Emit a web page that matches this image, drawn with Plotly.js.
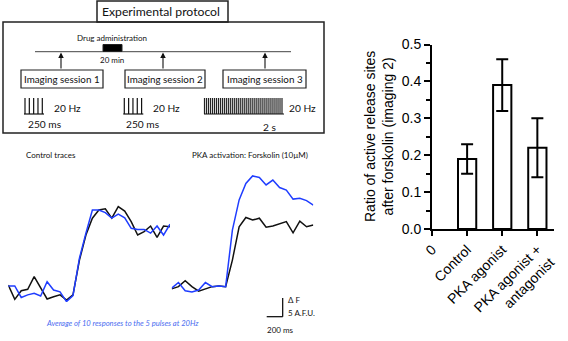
<!DOCTYPE html>
<html><head><meta charset="utf-8">
<script src="https://cdn.plot.ly/plotly-3.0.1.min.js"></script>
<style>html,body{margin:0;padding:0;background:#fff}#plot{width:568px;height:341px}</style>
</head><body><div id="plot"></div>
<script>
// ---- Bar chart data ----
const groups = ['Control', 'PKA agonist', 'PKA agonist +<br>antagonist'];
const ratioMean = [0.19, 0.39, 0.22];
const ratioErr = [0.04, 0.07, 0.08];

// ---- Fluorescence traces (ΔF, A.F.U.) ----
const frameMs = 80;
const controlBlack = [1.3,-2.5,-0.2,0.2,3.6,0.5,-2.4,-1.8,-1.3,-2.7,-1.3,8.0,14.7,19.2,21.4,21.7,19.2,22.3,21.1,18.3,14.7,15.6,17.1,14.1,17.1,16.9];
const controlBlue  = [1.1,1.1,-2.0,-1.3,-0.9,-1.6,2.2,0.0,-0.5,-3.1,-1.5,8.5,15.2,21.4,21.4,20.7,19.2,20.3,19.3,16.5,16.2,16.2,15.2,17.1,14.7,17.6];
const forskBlack = [0.3,0.9,2.5,0.9,-0.3,0.3,0.9,1.1,0.9,8.0,16.9,19.4,18.7,19.2,16.8,17.1,17.6,18.3,15.3,18.4,16.9,17.4];
const forskBlue  = [0.5,2.0,-0.2,-0.5,0.0,2.0,0.9,1.1,0.9,16.0,24.1,28.5,30.5,30.1,28.1,29.4,27.4,26.7,24.3,24.5,23.9,22.7];

// ---- Protocol ----
const sessionPulses = [5, 5, 40];

const W = 568, H = 341;
const X = p => p / W, Y = p => 1 - p / H;
const times = arr => arr.map((_, i) => i * frameMs);

const ink = '#222';
const blk = '#111', blu = '#1f3dff';
const data = [
  {type:'scatter', mode:'lines', x:times(controlBlack), y:controlBlack, xaxis:'x2', yaxis:'y2', line:{color:blk,width:1.5}, hoverinfo:'skip'},
  {type:'scatter', mode:'lines', x:times(controlBlue), y:controlBlue, xaxis:'x2', yaxis:'y2', line:{color:blu,width:1.5}, hoverinfo:'skip'},
  {type:'scatter', mode:'lines', x:times(forskBlack), y:forskBlack, xaxis:'x3', yaxis:'y2', line:{color:blk,width:1.5}, hoverinfo:'skip'},
  {type:'scatter', mode:'lines', x:times(forskBlue), y:forskBlue, xaxis:'x3', yaxis:'y2', line:{color:blu,width:1.5}, hoverinfo:'skip'},
  {type:'bar', x:[1,2,3], y:ratioMean, width:0.52,
   marker:{color:'#fff', line:{color:'#000', width:2}},
   error_y:{type:'data', array:ratioErr, visible:true, color:'#000', thickness:2, width:6}}
];

const shapes = [];
const line = (x0,y0,x1,y1,w,c) => shapes.push({type:'line', xref:'paper', yref:'paper', x0:X(x0), y0:Y(y0), x1:X(x1), y1:Y(y1), line:{color:c||ink, width:w||1}});
const rect = (x0,y0,x1,y1,w,fill) => shapes.push({type:'rect', xref:'paper', yref:'paper', x0:X(x0), y0:Y(y0), x1:X(x1), y1:Y(y1), line:{color:ink, width:w||1}, fillcolor:fill||'rgba(0,0,0,0)'});

// protocol boxes
rect(97, 1, 228, 22, 1.5);
rect(3, 22, 324, 133, 1.5);
line(35, 51.7, 291, 51.7, 1, '#444');
rect(103, 44.5, 122, 51.5, 1, '#000');
rect(21, 70, 103, 88, 1.2);
rect(125, 70, 205, 88, 1.2);
rect(223, 70, 306, 88, 1.2);
// pulse trains
const trains = [{x0:25, x1:42.3, base0:24, base1:44}, {x0:124.3, x1:141.6, base0:123.3, base1:143.3}, {x0:204.5, x1:282, base0:204, base1:284}];
trains.forEach((t, k) => {
  const n = sessionPulses[k];
  for (let i = 0; i < n; i++) {
    const xx = t.x0 + i * (t.x1 - t.x0) / (n - 1);
    line(xx, 98, xx, 114, n > 10 ? 1.2 : 1.2, n > 10 ? '#222' : '#111');
  }
  line(t.base0, 114, t.base1, 114, 1.2, '#111');
});
// scale bar
line(282.7, 298, 282.7, 316.7, 1.2, '#000');
line(266.7, 316.7, 282.7, 316.7, 1.2, '#000');

const dfont = 'Lato, "Open Sans", sans-serif';
const ann = [];
const txt = (t, x, y, size, anchor, extra) => ann.push(Object.assign({text:t, xref:'paper', yref:'paper', x:X(x), y:Y(y), xanchor:anchor||'center', yanchor:'middle', showarrow:false, font:{family:dfont, size:size, color:'#111'}}, extra||{}));
txt('Experimental protocol', 161, 12, 12.2);
txt('Drug administration', 112, 37.5, 8);
txt('20 min', 112, 59.5, 8);
txt('Imaging session 1', 62, 79, 9.8);
txt('Imaging session 2', 165, 79, 9.8);
txt('Imaging session 3', 264.5, 79, 9.8);
txt('20 Hz', 52, 108, 10.2, 'left');
txt('20 Hz', 151, 108, 10.2, 'left');
txt('20 Hz', 287, 108, 10.2, 'left');
txt('250 ms', 26, 124, 10.2, 'left');
txt('250 ms', 124, 124, 10.2, 'left');
txt('2 s', 261, 127, 10.2, 'left');
txt('Control traces', 24, 155, 8, 'left');
txt('PKA activation: Forskolin (10µM)', 190, 155, 8, 'left');
txt('<i>Average of 10 responses to the 5 pulses at 20Hz</i>', 44, 323, 7.6, 'left', {font:{family:dfont, size:7.6, color:'#4a6cf0'}});
txt('Δ F', 286, 299.5, 8, 'left');
txt('5 A.F.U.', 286, 313, 8, 'left');
txt('200 ms', 265, 330, 8, 'left');
// arrows
[61, 163, 265].forEach(ax => ann.push({xref:'paper', yref:'paper', x:X(ax), y:Y(52.5), ax:0, ay:17.5, axref:'pixel', ayref:'pixel', showarrow:true, arrowhead:2, arrowsize:1, arrowwidth:1.1, arrowcolor:'#111', text:''}));
// bar chart y title
ann.push({text:'Ratio of active release sites<br>after forskolin (imaging 2)', xref:'paper', yref:'paper', x:X(379), y:Y(137), textangle:-90, showarrow:false, xanchor:'center', yanchor:'middle', font:{family:'"Liberation Sans", Arial, sans-serif', size:14, color:'#000'}});

const afuAt = py => (290 - py) / 3.74;
const layout = {
  width: W, height: H, margin:{l:0, r:0, t:0, b:0}, showlegend:false,
  paper_bgcolor:'#fff', plot_bgcolor:'rgba(0,0,0,0)',
  font:{family:'"Liberation Sans", Arial, sans-serif', size:14, color:'#000'},
  xaxis:{domain:[X(432), X(553.5)], range:[0, 3.46], tickvals:[0,1,2,3], ticktext:['0'].concat(groups), tickangle:-45,
    showline:true, linewidth:2, linecolor:'#000', ticks:'outside', ticklen:5, tickwidth:2, tickcolor:'#000', showgrid:false, zeroline:false, fixedrange:true,
    tickfont:{size:14}},
  yaxis:{domain:[Y(229), Y(44.5)], range:[0, 0.5], dtick:0.1, tickformat:'.1f', showline:true, linewidth:2, linecolor:'#000',
    ticks:'outside', ticklen:6, tickwidth:2, tickcolor:'#000', showgrid:false, zeroline:false, fixedrange:true,
    minor:{dtick:0.05, ticks:'outside', ticklen:4, tickwidth:2, tickcolor:'#000'}, tickfont:{size:14}},
  xaxis2:{domain:[X(8.3), X(170)], range:[0, 25*frameMs], visible:false, anchor:'y2'},
  xaxis3:{domain:[X(171.7), X(313.3)], range:[0, 21*frameMs], visible:false, anchor:'y2'},
  yaxis2:{domain:[Y(302), Y(170)], range:[afuAt(302), afuAt(170)], visible:false, anchor:'x2'},
  shapes: shapes, annotations: ann
};
Plotly.newPlot('plot', data, layout, {staticPlot:true, displayModeBar:false});
</script></body></html>
